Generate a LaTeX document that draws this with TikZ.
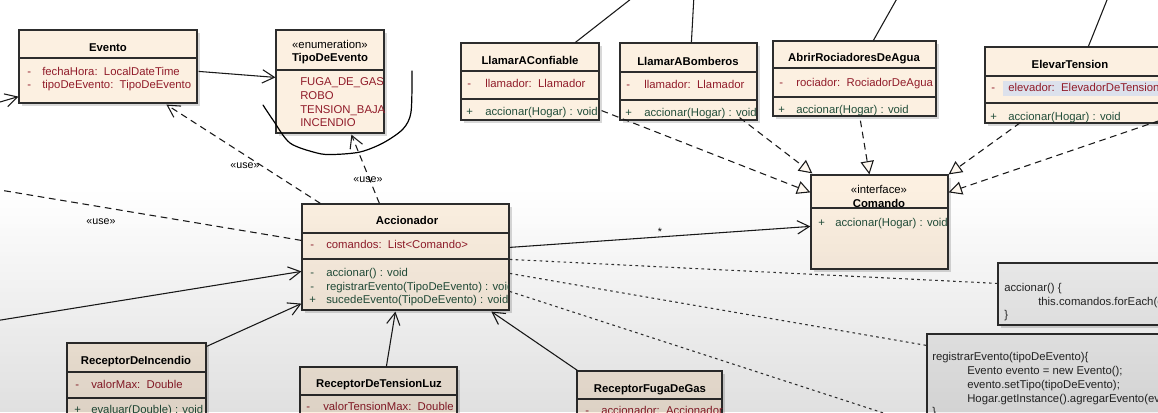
\documentclass[tikz,border=0pt]{standalone}
\usepackage{fontspec}
\setmainfont{Liberation Sans}
\usetikzlibrary{arrows.meta,shadows,fit}
\definecolor{beige}{RGB}{252,240,225}
\definecolor{attrred}{RGB}{145,28,42}
\definecolor{opgreen}{RGB}{35,78,58}
\definecolor{edge}{RGB}{45,45,45}
\definecolor{notefill}{RGB}{241,241,241}
\definecolor{selblue}{RGB}{220,225,236}
\newcommand{\fs}{\fontsize{8.5}{10}\selectfont}
\begin{document}
\begin{tikzpicture}[x=0.75pt,y=-0.75pt,
  cls/.style={draw=edge, line width=0.9pt, fill=beige, inner sep=0pt,
    drop shadow={shadow xshift=2.2pt, shadow yshift=-2.2pt, opacity=0.3}},
  notebox/.style={draw=edge, line width=0.9pt, fill=notefill, inner sep=0pt,
    drop shadow={shadow xshift=2.2pt, shadow yshift=-2.2pt, opacity=0.3}},
  ttl/.style={font=\bfseries\fs, anchor=base, inner sep=0pt},
  stereo/.style={font=\fs, anchor=base, inner sep=0pt},
  attr/.style={font=\fs, text=attrred, anchor=base west, inner sep=0pt},
  oper/.style={font=\fs, text=opgreen, anchor=base west, inner sep=0pt},
  ntxt/.style={font=\fs, text=black!85, anchor=base west, inner sep=0pt},
  div/.style={draw=edge, line width=0.9pt},
  assoc/.style={draw=black!90, line width=0.8pt, -{Straight Barb[length=9pt,width=10pt]}},
  dep/.style={draw=black!90, line width=0.8pt, dash pattern=on 5pt off 3.5pt, -{Straight Barb[length=9pt,width=10pt]}},
  depline/.style={draw=black!90, line width=0.8pt, dash pattern=on 5pt off 3.5pt},
  real/.style={draw=black!90, line width=0.8pt, dash pattern=on 5pt off 3.5pt, -{Triangle[length=10pt,width=10pt,fill=beige!50!white]}},
  notelink/.style={draw=black!80, line width=0.8pt, dash pattern=on 2pt off 2.5pt},
  plain/.style={draw=black!90, line width=0.8pt},
  lbl/.style={font=\fontsize{8}{10}\selectfont, inner sep=0pt}
]
\useasboundingbox (0,0) rectangle (1158,412);
\clip (0,0) rectangle (1158,412);
\fill[white] (0,0) rectangle (1158,412);

% ---------- class boxes ----------
\node[cls, fit={(19,30) (197,103)}] (evento) {};
\node[cls, fit={(276,30) (384,133)}] (tipo) {};
\node[cls, fit={(461,43) (599,120)}] (confiable) {};
\node[cls, fit={(620,43) (757,120)}] (bomberos) {};
\node[cls, fit={(773,41) (936,116)}] (abrir) {};
\node[cls, fit={(985,47) (1180,123)}] (elevar) {};
\node[cls, fit={(811,175) (948,269)}] (comando) {};
\node[cls, fit={(302,204) (509,310)}] (accion) {};
\node[cls, fit={(67,343) (206,440)}] (incendio) {};
\node[cls, fit={(300,367) (457,440)}] (tension) {};
\node[cls, fit={(577,371) (722,440)}] (fuga) {};
\node[notebox, fit={(998,263) (1180,325)}] (note1) {};
\node[notebox, fit={(927,334) (1180,440)}] (note2) {};

% ---------- dividers ----------
\draw[div] (19,58) -- (197,58);
\draw[div] (276,70) -- (384,70);
\draw[div] (461,71) -- (599,71);  \draw[div] (461,99) -- (599,99);
\draw[div] (620,72) -- (757,72);  \draw[div] (620,100) -- (757,100);
\draw[div] (773,68) -- (936,68);  \draw[div] (773,97) -- (936,97);
\draw[div] (985,76) -- (1180,76); \draw[div] (985,103) -- (1180,103);
\draw[div] (811,208) -- (948,208);
\draw[div] (302,233) -- (509,233); \draw[div] (302,259) -- (509,259);
\draw[div] (67,372) -- (206,372);  \draw[div] (67,398) -- (206,398);
\draw[div] (300,395) -- (457,395);
\draw[div] (577,399) -- (722,399);

% ---------- Evento ----------
\node[ttl] (eventoT) at (108,51) {Evento};
\node[attr] (ev1m) at (27,75) {-};
\node[attr] (ev1) at (42,75) {fechaHora:\ \ LocalDateTime};
\node[attr] (ev2m) at (27,88) {-};
\node[attr] (ev2) at (42,88) {tipoDeEvento:\ \ TipoDeEvento};

% ---------- TipoDeEvento ----------
\node[stereo] (tipoS) at (330,48) {«enumeration»};
\node[ttl] (tipoT) at (330,61) {TipoDeEvento};
\node[attr] (lit1) at (300,85) {FUGA\_DE\_GAS};
\node[attr] (lit2) at (300,99.5) {ROBO};
\node[attr] (lit3) at (300,113) {TENSION\_BAJA};
\node[attr] (lit4) at (300,126.5) {INCENDIO};

% ---------- command classes ----------
\node[ttl] (confT) at (530,64) {LlamarAConfiable};
\node[attr] (confAm) at (467,87) {-};
\node[attr] (confA) at (485,87) {llamador:\ \ Llamador};
\node[oper] (confOm) at (466,115) {+};
\node[oper] (confO) at (485,115) {accionar(Hogar) : void};

\node[ttl] (bomT) at (688,65) {LlamarABomberos};
\node[attr] (bomAm) at (626,88) {-};
\node[attr] (bomA) at (644,88) {llamador:\ \ Llamador};
\node[oper] (bomOm) at (625,116) {+};
\node[oper] (bomO) at (644,116) {accionar(Hogar) : void};

\node[ttl] (abrT) at (854,61) {AbrirRociadoresDeAgua};
\node[attr] (abrAm) at (779,86) {-};
\node[attr] (abrA) at (796,86) {rociador:\ \ RociadorDeAgua};
\node[oper] (abrOm) at (778,113) {+};
\node[oper] (abrO) at (796,113) {accionar(Hogar) : void};

\node[ttl] (eleT) at (1070,68) {ElevarTension};
\fill[selblue] (1003,81) rectangle (1160,96);
\node[attr] (eleAm) at (991,91) {-};
\node[attr] (eleA) at (1008,91) {elevador:\ \ ElevadorDeTension};
\node[oper] (eleOm) at (990,120) {+};
\node[oper] (eleO) at (1008,120) {accionar(Hogar) : void};

% ---------- Comando ----------
\node[stereo] (comS) at (879,193) {«interface»};
\node[ttl] (comT) at (879,207) {Comando};
\node[oper] (comOm) at (818,226) {+};
\node[oper] (comO) at (835,226) {accionar(Hogar) : void};

% ---------- Accionador ----------
\node[ttl] (accT) at (407,224) {Accionador};
\node[attr] (accAm) at (310,248) {-};
\node[attr] (accA) at (326,248) {comandos:\ \ List<Comando>};
\begin{scope}
  \clip (302,260) rectangle (508.5,310);
  \node[oper] (accO1m) at (310,276) {-};
  \node[oper] (accO1) at (326,276) {accionar() : void};
  \node[oper] (accO2m) at (310,290) {-};
  \node[oper] (accO2) at (326,290) {registrarEvento(TipoDeEvento) : void};
  \node[oper] (accO3m) at (309,303) {+};
  \node[oper] (accO3) at (326,303) {sucedeEvento(TipoDeEvento) : void};
\end{scope}

% ---------- receptors ----------
\node[ttl] (incT) at (136,364) {ReceptorDeIncendio};
\node[attr] (incAm) at (75,388) {-};
\node[attr] (incA) at (91,388) {valorMax:\ \ Double};
\node[oper] (incOm) at (74,413) {+};
\node[oper] (incO) at (91,413) {evaluar(Double) : void};

\node[ttl] (tenT) at (379,387) {ReceptorDeTensionLuz};
\node[attr] (tenAm) at (306,410.5) {-};
\node[attr] (tenA) at (323,410.5) {valorTensionMax:\ \ Double};

\node[ttl] (fugT) at (650,392) {ReceptorFugaDeGas};
\node[attr] (fugAm) at (585,414) {-};
\node[attr] (fugA) at (601,414) {accionador:\ \ Accionador};

% ---------- notes ----------
\node[ntxt] (n1a) at (1004,291) {accionar() \{};
\node[ntxt] (n1b) at (1038,305) {this.comandos.forEach(c};
\node[ntxt] (n1c) at (1004,318) {\}};
\node[ntxt] (n2a) at (932,360) {registrarEvento(tipoDeEvento)\{};
\node[ntxt] (n2b) at (967,374) {Evento evento = new Evento();};
\node[ntxt] (n2c) at (967,388) {evento.setTipo(tipoDeEvento);};
\node[ntxt] (n2d) at (967,402) {Hogar.getInstance().agregarEvento(evento);};
\node[ntxt] (n2e) at (932,415) {\}};

% ---------- off-picture ends ----------
\coordinate (offEv) at (0,102);
\coordinate (offUse) at (-30,185);
\coordinate (offAcc) at (-30,325);
\coordinate (offN3) at (905,420);
\coordinate (offT1) at (636,-5);
\coordinate (offT2) at (694,-5);
\coordinate (offT3) at (899,-5);
\coordinate (offT4) at (1109,-5);
\coordinate (offR) at (1170,117);

% ---------- connectors ----------
\draw[assoc] ([shift={(1,42)}]evento.north east) -- ([shift={(0,48)}]tipo.north west);
\draw[assoc] (offEv) -- ([shift={(0,-7)}]evento.south west);
\draw[dep] ([shift={(19,0)}]accion.north west) -- ([shift={(148,1)}]evento.south west);
\draw[dep] ([shift={(78,0)}]accion.north west) -- ([shift={(76,1)}]tipo.south west);
\draw[depline] ([shift={(0,37)}]accion.north west) -- (offUse);
\node[lbl] (use1) at (245,166) {«use»};
\node[lbl] (use2) at (368,180) {«use»};
\node[lbl] (use3) at (101,222) {«use»};

\draw[assoc] (offAcc) -- ([shift={(0,68)}]accion.north west);
\draw[assoc] ([shift={(0,4)}]incendio.north east) -- ([shift={(0,-7)}]accion.south west);
\draw[assoc] ([shift={(87,0)}]tension.north west) -- ([shift={(94,1)}]accion.south west);
\draw[assoc] ([shift={(1,0)}]fuga.north west) -- ([shift={(190,1)}]accion.south west);

\draw[assoc] ([shift={(0,44)}]accion.north east) -- ([shift={(0,52)}]comando.north west)
  node[lbl, pos=0.5, above=1pt] (star) {*};

\draw[notelink] ([shift={(0,56)}]accion.north east) -- ([shift={(0,21)}]note1.north west);
\draw[notelink] ([shift={(0,70)}]accion.north east) -- ([shift={(0,12)}]note2.north west);
\draw[notelink] ([shift={(0,88)}]accion.north east) -- (offN3);

\draw[plain] ([shift={(115,0)}]confiable.north west) -- (offT1);
\draw[plain] ([shift={(72,0)}]bomberos.north west) -- (offT2);
\draw[plain] ([shift={(101,0)}]abrir.north west) -- (offT3);
\draw[plain] ([shift={(104,0)}]elevar.north west) -- (offT4);

\draw[real] ([shift={(2,-10)}]confiable.south east) -- ([shift={(0,18)}]comando.north west);
\draw[real] ([shift={(-18,-3)}]bomberos.south east) -- ([shift={(2,-1)}]comando.north west);
\draw[real] ([shift={(88,4)}]abrir.south west) -- ([shift={(59,0)}]comando.north west);
\draw[real] ([shift={(36,-1)}]elevar.south west) -- (comando.north east);
\draw[real] (offR) -- ([shift={(0,18)}]comando.north east);

% ---------- hand-drawn stroke ----------
\draw[black, line width=0.9pt, line cap=round] plot[smooth] coordinates {
  (263,105) (273,120) (290,143) (317,153) (333,154.5) (360,152) (383,143) (403,129) (411,112) (412,71)};

% ---------- vignette (soft grey towards the bottom) ----------
\foreach \i [evaluate=\i as \op using 0.0022*\i] in {1,...,55} {
  \fill[black, opacity=\op] (0,{188+4*\i}) rectangle (1158,{192+4*\i});
}
\end{tikzpicture}
\end{document}
